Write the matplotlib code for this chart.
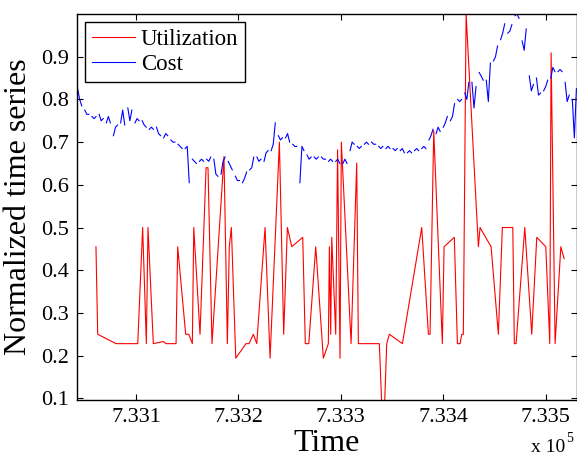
import matplotlib
matplotlib.use("Agg")
import matplotlib.pyplot as plt
import numpy as np

plt.rcParams['font.family'] = 'Liberation Serif'

# utilization samples (datenum days, normalized value)
util_time = [
    733060.9, 733062.6, 733080.5, 733101.7, 733106.5, 733110.1, 733111.7, 733116.9,
    733126.7, 733129.3, 733139.1, 733140.7, 733148.5, 733151.5, 733155.0, 733156.4,
    733162.5, 733168.4, 733170.3, 733174.2, 733185.9, 733189.2, 733191.1, 733193.1,
    733197.4, 733207.4, 733210.4, 733214.6, 733217.9, 733226.0, 733230.9, 733240.0,
    733244.2, 733247.8, 733252.1, 733262.8, 733265.3, 733268.7, 733275.5, 733282.9,
    733287.8, 733288.8, 733290.1, 733291.1, 733295.0, 733296.8, 733299.2, 733300.5,
    733310.0, 733315.5, 733317.1, 733337.6, 733340.5, 733342.2, 733344.8, 733347.4,
    733360.1, 733379.0, 733385.5, 733387.1, 733390.7, 733399.1, 733400.8, 733410.8,
    733413.8, 733416.4, 733418.1, 733419.6, 733422.3, 733434.3, 733435.9, 733446.7,
    733453.8, 733457.7, 733467.9, 733469.4, 733471.1, 733479.6, 733486.4, 733491.3,
    733500.1, 733504.0, 733505.3, 733509.2, 733514.8, 733518.0,
]
util_value = [
    0.455, 0.25, 0.228, 0.228, 0.5, 0.228, 0.5, 0.228,
    0.233, 0.228, 0.228, 0.455, 0.25, 0.25, 0.228, 0.5,
    0.25, 0.64, 0.64, 0.228, 0.666, 0.228, 0.455, 0.5,
    0.194, 0.228, 0.228, 0.25, 0.228, 0.5, 0.194, 0.70,
    0.25, 0.5, 0.455, 0.477, 0.228, 0.228, 0.455, 0.194,
    0.228, 0.455, 0.25, 0.477, 0.25, 0.682, 0.194, 0.70,
    0.228, 0.651, 0.228, 0.228, 0.05, 0.05, 0.228, 0.25,
    0.228, 0.5, 0.25, 0.25, 0.727, 0.228, 0.455, 0.477,
    0.228, 0.228, 0.25, 0.25, 1.0, 0.455, 0.5, 0.455,
    0.25, 0.5, 0.5, 0.228, 0.228, 0.5, 0.25, 0.477,
    0.455, 0.228, 0.909, 0.228, 0.455, 0.427,
]

# cost: three readings per trading week, weekends left as gaps
cost_start = 733043
cost_weeks = [
    (0.825, 0.80, 0.785), (0.775, 0.765, 0.765), (0.76, 0.755, 0.76), (0.765, 0.75, 0.755),
    (0.745, 0.76, 0.745), (0.715, 0.735, 0.74), (0.745, 0.775, 0.74), (0.78, 0.75, 0.775),
    (0.745, 0.755, 0.75), (0.75, 0.74, 0.735), (0.73, 0.735, 0.73), (0.735, 0.72, 0.715),
    (0.71, 0.72, 0.715), (0.705, 0.70, 0.70), (0.695, 0.69, 0.685), (0.685, 0.69, 0.605),
    (0.66, 0.655, 0.65), (0.655, 0.66, 0.655), (0.66, 0.655, 0.665), (0.66, 0.625, 0.62),
    (0.625, 0.655, 0.665), (0.655, 0.645, 0.635), (0.62, 0.61, 0.61), (0.605, 0.615, 0.63),
    (0.635, 0.64, 0.665), (0.665, 0.655, 0.66), (0.655, 0.675, 0.68), (0.68, 0.695, 0.745),
    (0.715, 0.705, 0.71), (0.71, 0.72, 0.70), (0.695, 0.69, 0.69), (0.605, 0.69, 0.68),
    (0.67, 0.66, 0.665), (0.665, 0.66, 0.665), (0.665, 0.66, 0.66), (0.655, 0.66, 0.655),
    (0.655, 0.66, 0.65), (0.65, 0.66, 0.65), (0.68, 0.70, 0.695), (0.69, 0.685, 0.69),
    (0.695, 0.70, 0.695), (0.70, 0.695, 0.695), (0.69, 0.685, 0.69), (0.685, 0.69, 0.685),
    (0.685, 0.68, 0.685), (0.68, 0.685, 0.675), (0.675, 0.68, 0.675), (0.68, 0.685, 0.68),
    (0.685, 0.69, 0.685), (0.705, 0.715, 0.73), (0.72, 0.735, 0.725), (0.735, 0.745, 0.76),
    (0.75, 0.76, 0.79), (0.80, 0.795, 0.80), (0.815, 0.80, 0.84), (0.84, 0.78, 0.83),
    (0.863, 0.855, 0.845), (0.845, 0.795, 0.885), (0.89, 0.90, 0.925), (0.94, 0.955, 0.977),
    (0.955, 0.96, 0.975), (0.996, 1.0, 0.99), (0.937, 0.915, 0.965), (0.855, 0.82, 0.835),
    (0.85, 0.81, 0.815), (0.82, 0.83, 0.845), (0.85, 0.875, 0.865), (0.865, 0.87, 0.865),
    (0.84, 0.795, 0.81), (0.80, 0.71, 0.825),
]

x_ticks = [733100, 733200, 733300, 733400, 733500]
x_tick_labels = ['7.331', '7.332', '7.333', '7.334', '7.335']
y_ticks = [0.1, 0.2, 0.3, 0.4, 0.5, 0.6, 0.7, 0.8, 0.9]

cost_time = []
cost_value = []
for k, week in enumerate(cost_weeks):
    day0 = cost_start + 7 * k
    for j, val in enumerate(week):
        cost_time.append(day0 + 2 * j)
        cost_value.append(val)
    cost_time.append(day0 + 5)
    cost_value.append(np.nan)

fig = plt.figure(figsize=(5.77, 4.59), dpi=100)
ax = fig.add_axes([0.134, 0.1285, 0.8655, 0.841])

ax.plot(util_time, util_value, color='r', lw=0.8, label='Utilization')
ax.plot(cost_time, cost_value, color='b', lw=0.8, label='Cost')

ax.set_xlim(733042.7, 733530.3)
ax.set_ylim(0.096, 1.0)
ax.set_xticks(x_ticks)
ax.set_xticklabels(x_tick_labels)
ax.set_yticks(y_ticks)
ax.set_yticklabels([f'{v:.1f}' for v in y_ticks])
ax.tick_params(direction='in', length=4.5, width=0.8, labelsize=16,
               top=True, right=True, pad=6)
for sp in ax.spines.values():
    sp.set_linewidth(1.0)

ax.set_xlabel('Time', fontsize=23, labelpad=1)
ax.set_ylabel('Normalized time series', fontsize=23, labelpad=6)

leg = ax.legend(loc='upper left', fontsize=16.5, fancybox=False, framealpha=1,
                edgecolor='black', handlelength=1.85, handletextpad=0.27,
                labelspacing=0.18, borderpad=0.3, borderaxespad=0.35)
leg.get_frame().set_linewidth(1.0)

fig.text(0.979, 0.015, 'x 10', fontsize=14, ha='right', va='baseline')
fig.text(0.981, 0.037, '5', fontsize=10, ha='left', va='baseline')

fig.savefig('out.png', dpi=100)
